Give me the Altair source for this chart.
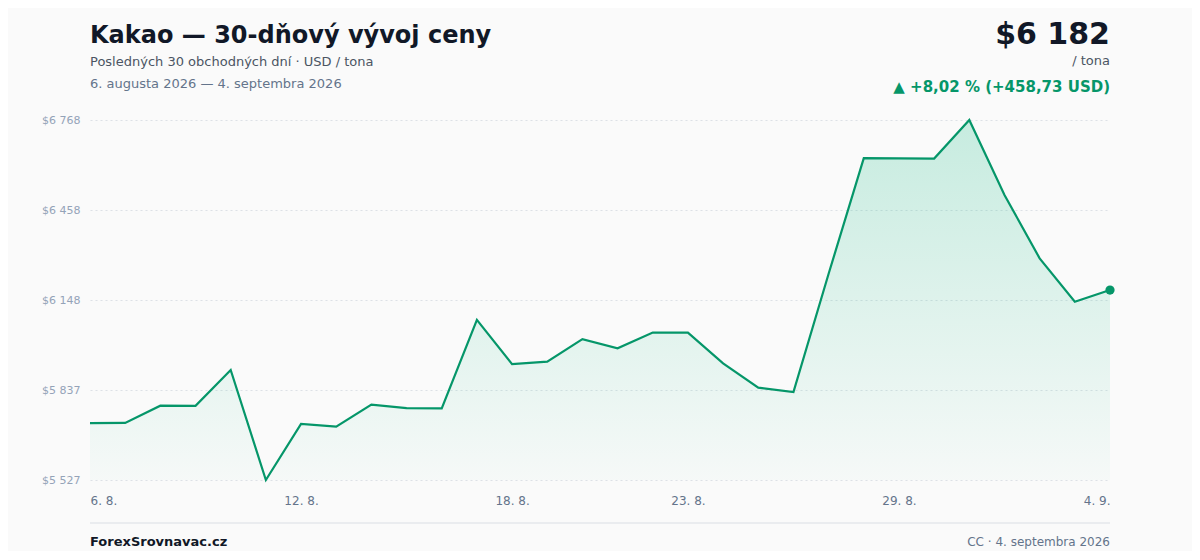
import altair as alt
import pandas as pd

# ---- data ----
dates = pd.date_range("2026-08-06", "2026-09-04", freq="D").strftime("%Y-%m-%d").tolist()
prices = [5723.27, 5724.10, 5783.40, 5783.00, 5906.20, 5527.20, 5720.30, 5711.20,
          5787.00, 5775.10, 5774.30, 6079.00, 5926.40, 5935.20, 6012.50, 5981.30,
          6035.60, 6035.40, 5929.00, 5845.30, 5830.10, 6238.00, 6636.50, 6635.80,
          6635.20, 6768.00, 6509.40, 6291.20, 6141.80, 6182.00]
x_tick_dates = ["2026-08-06", "2026-08-12", "2026-08-18", "2026-08-23", "2026-08-29", "2026-09-04"]

title_text = "Kakao — 30-dňový vývoj ceny"
subtitle_text = "Posledných 30 obchodných dní · USD / tona"
range_text = "6. augusta 2026 — 4. septembra 2026"
price_text = "$6 182"
unit_text = "/ tona"
change_text = "▲ +8,02 % (+458,73 USD)"
footer_left = "ForexSrovnavac.cz"
footer_right = "CC · 4. septembra 2026"

GREEN = "#059669"
W, H = 1020, 360

df = pd.DataFrame({"date": dates, "price": prices})
last_df = pd.DataFrame({"date": [dates[-1]], "price": [prices[-1]]})

lo, hi = min(prices), max(prices)
y_ticks = [lo + k * (hi - lo) / 4 for k in range(5)]


def dt(s):
    y, m, d = map(int, s.split("-"))
    return alt.DateTime(year=y, month=m, date=d, utc=True)


x_enc = alt.X(
    "date:T",
    scale=alt.Scale(type="utc"),
    axis=alt.Axis(
        values=[dt(s) for s in x_tick_dates],
        labelExpr="utcFormat(datum.value, '%-d. %-m.')",
        labelFlush=True,
        grid=False,
        domain=False,
        ticks=False,
        tickSize=0,
        labelPadding=15,
        labelFontSize=12,
        labelColor="#64748b",
        title=None,
    ),
)
y_enc = alt.Y(
    "price:Q",
    scale=alt.Scale(domain=[lo, hi], nice=False, zero=False),
    axis=alt.Axis(
        values=y_ticks,
        labelExpr="'$' + replace(format(datum.value, ',.0f'), ',', ' ')",
        domain=False,
        ticks=False,
        tickSize=0,
        labelPadding=10,
        labelFontSize=11,
        labelColor="#94a3b8",
        gridColor="#dde1e6",
        gridDash=[2, 3],
        gridWidth=1,
        title=None,
    ),
)

gradient = alt.Gradient(
    gradient="linear",
    stops=[
        alt.GradientStop(color="rgba(16,185,129,0.22)", offset=0),
        alt.GradientStop(color="rgba(16,185,129,0.02)", offset=1),
    ],
    x1=1, x2=1, y1=0, y2=1,
)

base = alt.Chart(df)
area = base.mark_area(color=gradient).encode(x=x_enc, y=y_enc, y2=alt.datum(lo))
line = base.mark_line(color=GREEN, strokeWidth=2.2).encode(x="date:T", y="price:Q")
dot = alt.Chart(last_df).mark_point(filled=True, color=GREEN, size=85, opacity=1).encode(
    x="date:T", y="price:Q"
)


def txt(text, x, y, size, color, weight="normal", align="left"):
    return alt.Chart(alt.Data(values=[{}])).mark_text(
        text=text, fontSize=size, color=color, fontWeight=weight,
        align=align, baseline="alphabetic",
    ).encode(x=alt.value(x), y=alt.value(y))


texts = [
    txt(title_text, 0, -77, 24, "#111827", "bold"),
    txt(subtitle_text, 0, -54, 13, "#4b5563"),
    txt(range_text, 0, -32, 13, "#64748b"),
    txt(price_text, W, -76, 30, "#111827", "bold", "right"),
    txt(unit_text, W, -55, 13, "#4b5563", "normal", "right"),
    txt(change_text, W, -28, 15, GREEN, "bold", "right"),
    txt(footer_left, 0, 426, 13, "#111827", "bold"),
    txt(footer_right, W, 426, 12, "#64748b", "normal", "right"),
]

footer_rule = alt.Chart(alt.Data(values=[{}])).mark_rule(
    color="#e5e7eb", strokeWidth=1.5
).encode(x=alt.value(0), x2=alt.value(W), y=alt.value(403))

chart = (
    alt.layer(area, line, dot, footer_rule, *texts)
    .properties(
        width=W,
        height=H,
        padding={"left": 82, "top": 112, "right": 82, "bottom": 71},
        autosize=alt.AutoSizeParams(type="none"),
        background="#fafafa",
    )
    .configure(font="DejaVu Sans")
    .configure_view(strokeWidth=0, stroke="transparent")
)

chart.save("out.html", embed_options={"renderer": "svg", "actions": False})
